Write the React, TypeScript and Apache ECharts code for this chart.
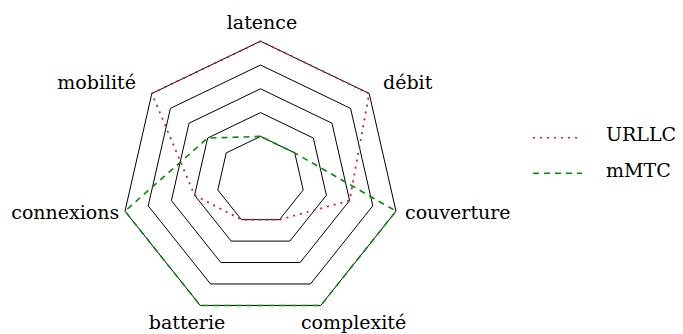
import React, { useEffect, useRef } from "react";
import * as echarts from "echarts";

// ---- data (clockwise from the top) ----
const AXES = ["latence", "débit", "couverture", "complexité", "batterie", "connexions", "mobilité"];
const URLLC = [5, 5, 3, 1, 1, 2, 5];
const MMTC = [1, 1, 5, 5, 5, 5, 2];
const RING_LEVELS = [1, 2, 3, 4, 5];
const SCALE_MIN = -0.84;
const SCALE_MAX = 5;
const SERIES_NAMES = ["URLLC", "mMTC"];

// ---- layout / style ----
const W = 683;
const H = 334;
const CX = 260.5;
const CY = 180.2;
const R = 139;
const FONT = "DejaVu Serif, serif";
const FS = 19;
const RED = "#d01f3a";
const GREEN = "#078a07";
const RED_DASH = [2, 5];
const GREEN_DASH = [6, 5];

type Pos = { x: number; y: number; align: "left" | "right" | "center" };
const LABEL_POS: Record<string, Pos> = {
  latence: { x: 262, y: 21.5, align: "center" },
  "débit": { x: 383, y: 82.2, align: "left" },
  couverture: { x: 405, y: 212, align: "left" },
  "complexité": { x: 353.5, y: 321.5, align: "center" },
  batterie: { x: 187, y: 321.5, align: "center" },
  connexions: { x: 119.3, y: 211.5, align: "right" },
  "mobilité": { x: 136, y: 81.5, align: "right" },
};

// legend layout
const LEG_X1 = 533;
const LEG_X2 = 582;
const LEG_TEXT_X = 606;
const LEG_LINE_Y = [137.7, 173.3];
const LEG_TEXT_Y = [134.3, 170.4];

// ECharts lays indicators counter-clockwise; reorder the clockwise data
const ORDER = [0, 6, 5, 4, 3, 2, 1];
const reorder = <T,>(arr: T[]) => ORDER.map((i) => arr[i]);

export default function App() {
  const ref = useRef<HTMLDivElement>(null);

  useEffect(() => {
    document.body.style.margin = "0";
    if (!ref.current) return;
    const chart = echarts.init(ref.current, undefined, { renderer: "svg" });

    const indicator = reorder(AXES).map((name) => ({ name, min: SCALE_MIN, max: SCALE_MAX }));

    const ringSeries = RING_LEVELS.map((lvl) => ({
      type: "radar" as const,
      name: "ring" + lvl,
      silent: true,
      symbol: "none",
      z: 1,
      lineStyle: { color: "#000", width: 1, type: "solid" as const },
      itemStyle: { color: "#000" },
      data: [{ value: AXES.map(() => lvl), name: "ring" + lvl }],
    }));

    const colors = [RED, GREEN];
    const dashes = [RED_DASH, GREEN_DASH];

    const textStyle = (text: string, align: string) => ({
      text,
      font: `${FS}px ${FONT}`,
      fontFamily: FONT,
      fontSize: FS,
      fill: "#000",
      align,
      verticalAlign: "middle",
    });

    const legendGraphics: any[] = [];
    SERIES_NAMES.forEach((name, i) => {
      legendGraphics.push({
        type: "line",
        silent: true,
        shape: { x1: LEG_X1, y1: LEG_LINE_Y[i], x2: LEG_X2, y2: LEG_LINE_Y[i] },
        style: { stroke: colors[i], lineWidth: 1.6, lineDash: dashes[i] },
      });
      legendGraphics.push({
        type: "text",
        silent: true,
        x: LEG_TEXT_X,
        y: LEG_TEXT_Y[i],
        style: textStyle(name, "left"),
      });
    });

    const option: echarts.EChartsOption = {
      animation: false,
      backgroundColor: "#fff",
      textStyle: { fontFamily: FONT },
      radar: {
        center: [CX, CY],
        radius: R,
        startAngle: 90,
        shape: "polygon",
        splitNumber: 4,
        indicator,
        axisName: { show: false },
        axisLine: { show: false },
        axisTick: { show: false },
        axisLabel: { show: false },
        splitLine: { show: false },
        splitArea: { show: false },
      },
      series: [
        ...ringSeries,
        {
          type: "radar",
          name: SERIES_NAMES[0],
          symbol: "none",
          z: 3,
          color: RED,
          itemStyle: { color: RED },
          lineStyle: { color: RED, width: 1.8, type: RED_DASH },
          data: [{ value: reorder(URLLC), name: SERIES_NAMES[0] }],
        },
        {
          type: "radar",
          name: SERIES_NAMES[1],
          symbol: "none",
          z: 3,
          color: GREEN,
          itemStyle: { color: GREEN },
          lineStyle: { color: GREEN, width: 1.6, type: GREEN_DASH },
          data: [{ value: reorder(MMTC), name: SERIES_NAMES[1] }],
        },
      ] as any,
      graphic: [
        ...AXES.map((name) => {
          const p = LABEL_POS[name];
          return {
            type: "text",
            x: p.x,
            y: p.y,
            silent: true,
            style: textStyle(name, p.align),
          };
        }),
        ...legendGraphics,
      ] as any,
    };

    chart.setOption(option);
    return () => chart.dispose();
  }, []);

  return (
    <div
      ref={ref}
      style={{ position: "absolute", left: 0, top: 0, width: W, height: H }}
    />
  );
}
